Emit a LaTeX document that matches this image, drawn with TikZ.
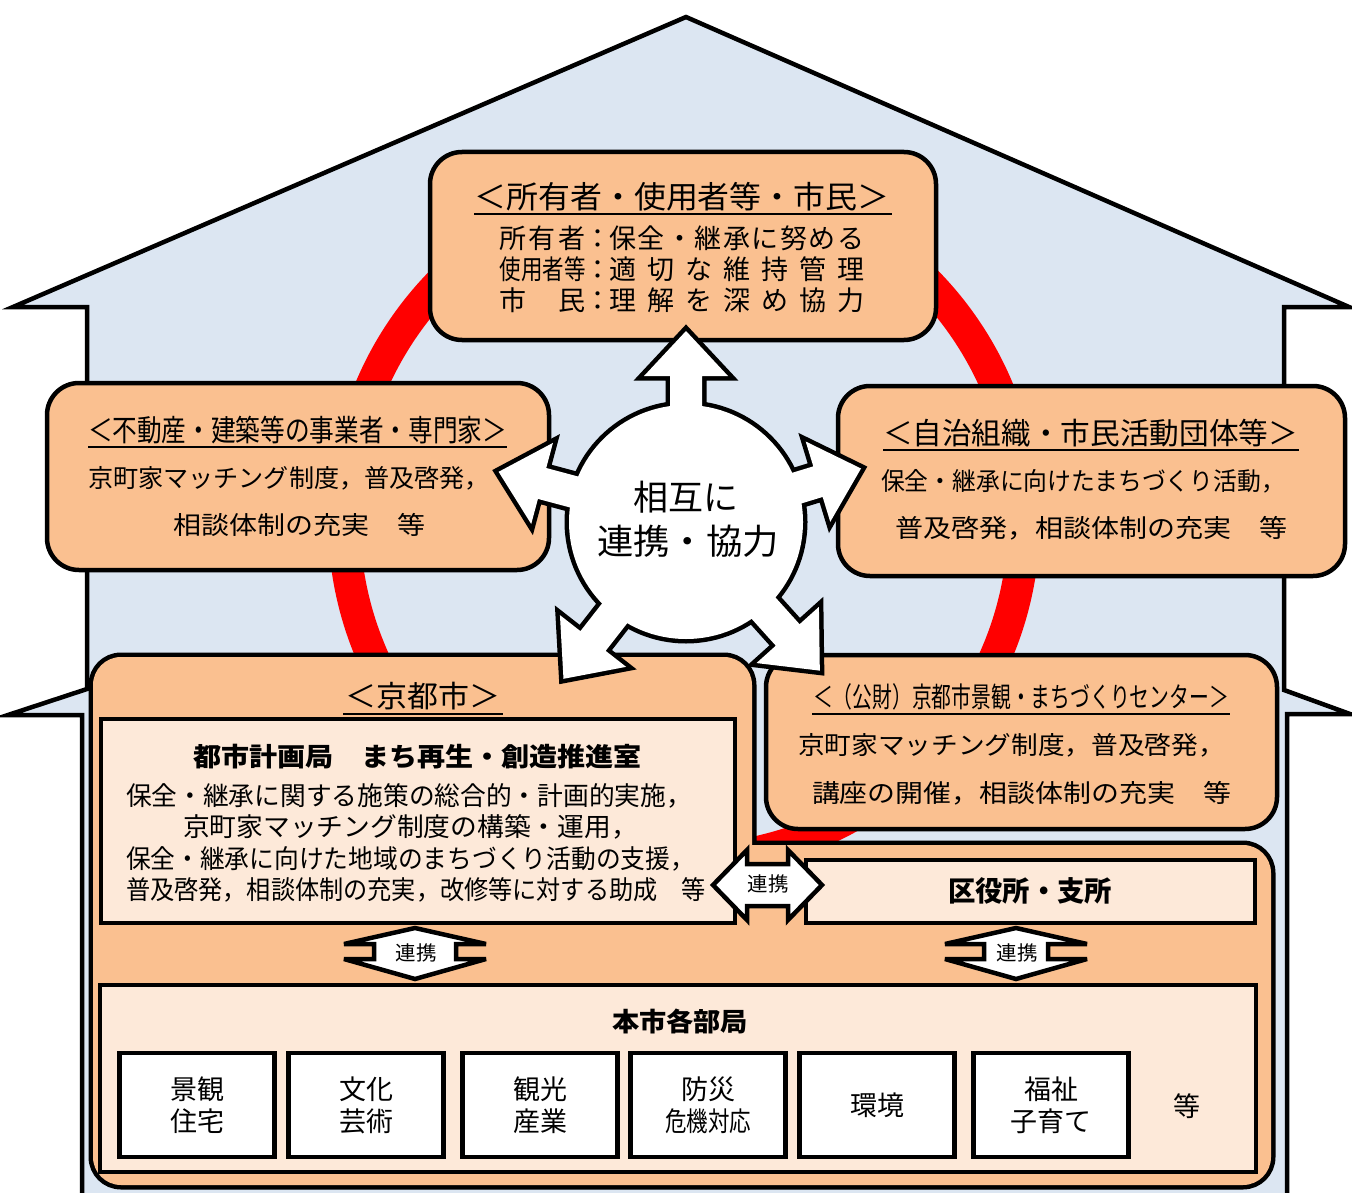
\documentclass[tikz,border=0pt]{standalone}
\usepackage{fontspec}
\setmainfont{Noto Sans CJK JP}
\usepackage{graphicx}
\definecolor{housebl}{HTML}{DCE6F2}
\definecolor{peach}{HTML}{FAC090}
\definecolor{lpeach}{HTML}{FDE9D9}
\definecolor{ringred}{HTML}{FF0000}
\newcommand\fitw[2]{\resizebox{#1pt}{\height}{#2}}
\newcommand\fsz[1]{\fontsize{#1pt}{#1pt}\selectfont}
\tikzset{
  housestyle/.style={draw=black, line width=4.5pt, fill=housebl, line join=miter, miter limit=20},
  pbox/.style={draw=black, line width=4.5pt, fill=peach, rounded corners=32pt},
  lbox/.style={draw=black, line width=4.5pt, fill=lpeach},
  wbox/.style={draw=black, line width=4.5pt, fill=white},
  txt/.style={inner sep=0pt, anchor=center},
  ul/.style={draw=black, line width=2.4pt},
  blockarrow/.style={draw=black, line width=4.5pt, fill=white, line join=miter, miter limit=5},
}
\begin{document}
\begin{tikzpicture}[x=1pt,y=-1pt]
\useasboundingbox (0,0) rectangle (1352,1193);

% house
\path[housestyle] (87,307) -- (13,307) -- (686,17) -- (1349,307) -- (1284,307) -- (1284,690)
  -- (1350,714) -- (1287,714) -- (1287,1215) -- (82,1215) -- (82,715) -- (8,715) -- (87,689) -- cycle;

% red ring
\draw[ringred, line width=32pt] (684,520) circle[radius=340pt];

% top box
\node[pbox, minimum width=506pt, minimum height=188pt] (owners) at (683,246) {};
\node[txt] (ownT) at (682,197) {\fsz{31}\fitw{415}{＜所有者・使用者等・市民＞}};
\draw[ul] (474,214) -- (892,214);
\node[txt] (own1) at (682,238) {\fsz{27}\hbox to 365pt{\hbox to 86pt{所\hfil 有\hfil 者}\makebox[24pt]{：}\hbox to 255pt{保\hfil 全\hfil ・\hfil 継\hfil 承\hfil に\hfil 努\hfil め\hfil る}}};
\node[txt] (own2) at (682,269) {\fsz{27}\hbox to 365pt{\fitw{86}{使用者等}\makebox[24pt]{：}\hbox to 255pt{適\hfil 切\hfil な\hfil 維\hfil 持\hfil 管\hfil 理}}};
\node[txt] (own3) at (682,300) {\fsz{27}\hbox to 365pt{\hbox to 86pt{市\hfil 民}\makebox[24pt]{：}\hbox to 255pt{理\hfil 解\hfil を\hfil 深\hfil め\hfil 協\hfil 力}}};

% left box
\node[pbox, minimum width=502pt, minimum height=187pt] (realestate) at (298,476.5) {};
\node[txt] (reT) at (297.5,430) {\fsz{30}\fitw{419}{＜不動産・建築等の事業者・専門家＞}};
\draw[ul] (88,447) -- (507,447);
\node[txt] (re1) at (289,478) {\fsz{25}\fitw{402}{京町家マッチング制度，普及啓発，}};
\node[txt] (re2) at (299,525) {\fsz{25}\fitw{252}{相談体制の充実　等}};

% right box
\node[pbox, minimum width=507pt, minimum height=190pt] (community) at (1091.5,481) {};
\node[txt] (coT) at (1090.5,433) {\fsz{30}\fitw{415}{＜自治組織・市民活動団体等＞}};
\draw[ul] (883,450) -- (1299,450);
\node[txt] (co1) at (1083,481) {\fsz{25}\fitw{404}{保全・継承に向けたまちづくり活動，}};
\node[txt] (co2) at (1091,528) {\fsz{25}\fitw{392}{普及啓発，相談体制の充実　等}};

% centre box
\node[pbox, minimum width=511pt, minimum height=174pt] (center) at (1021.5,742) {};
\node[txt] (ceT) at (1021,697) {\fsz{28}\fitw{416}{＜（公財）京都市景観・まちづくりセンター＞}};
\draw[ul] (812,714) -- (1230,714);
\node[txt] (ce1) at (1011.5,745) {\fsz{25}\fitw{427}{京町家マッチング制度，普及啓発，}};
\node[txt] (ce2) at (1021.5,793) {\fsz{25}\fitw{419}{講座の開催，相談体制の充実　等}};

% Kyoto city outer shape (union of two rounded rectangles)
\path[draw=black, line width=9pt, rounded corners=28pt] (93,657) rectangle (752,1185) (690,845) rectangle (1271,1185);
\path[fill=peach, rounded corners=28pt] (93,657) rectangle (752,1185) (690,845) rectangle (1271,1185);
\node[txt] (kyT) at (422.5,696) {\fsz{30}\fitw{155}{＜京都市＞}};
\draw[ul] (343,714) -- (503,714);

\node[lbox, minimum width=634pt, minimum height=204pt] (toshi) at (418,821) {};
\node[txt] (tsT) at (417.5,757) {\fsz{26}\bfseries\fitw{449}{都市計画局　まち再生・創造推進室}};
\node[txt] (ts1) at (409,796) {\fsz{26}\fitw{566}{保全・継承に関する施策の総合的・計画的実施，}};
\node[txt] (ts2) at (410.5,827) {\fsz{26}\fitw{455}{京町家マッチング制度の構築・運用，}};
\node[txt] (ts3) at (410.5,859) {\fsz{26}\fitw{569}{保全・継承に向けた地域のまちづくり活動の支援，}};
\node[txt] (ts4) at (416,890) {\fsz{26}\fitw{580}{普及啓発，相談体制の充実，改修等に対する助成　等}};

\node[lbox, minimum width=449pt, minimum height=63pt] (ward) at (1030.5,891.5) {};
\node[txt] (wdT) at (1030,891) {\fsz{28}\bfseries\fitw{164}{区役所・支所}};

\node[lbox, minimum width=1156pt, minimum height=187pt] (depts) at (678,1078.5) {};
\node[txt] (dpT) at (680,1021) {\fsz{26}\bfseries\fitw{136}{本市各部局}};

\node[wbox, minimum width=155pt, minimum height=104pt] (d1) at (197,1105) {};
\node[wbox, minimum width=155pt, minimum height=104pt] (d2) at (366,1105) {};
\node[wbox, minimum width=155pt, minimum height=104pt] (d3) at (540,1105) {};
\node[wbox, minimum width=155pt, minimum height=104pt] (d4) at (708,1105) {};
\node[wbox, minimum width=155pt, minimum height=104pt] (d5) at (877,1105) {};
\node[wbox, minimum width=155pt, minimum height=104pt] (d6) at (1051,1105) {};
\node[txt, align=center, font=\fontsize{27pt}{32pt}\selectfont] (t1) at (d1) {景観\\住宅};
\node[txt, align=center, font=\fontsize{27pt}{32pt}\selectfont] (t2) at (d2) {文化\\芸術};
\node[txt, align=center, font=\fontsize{27pt}{32pt}\selectfont] (t3) at (d3) {観光\\産業};
\node[txt, align=center, font=\fontsize{27pt}{32pt}\selectfont] (t4) at (d4) {防災\\\fitw{86}{危機対応}};
\node[txt, font=\fontsize{27pt}{32pt}\selectfont] (t5) at (d5) {環境};
\node[txt, align=center, font=\fontsize{27pt}{32pt}\selectfont] (t6) at (d6) {福祉\\子育て};
\node[txt, font=\fontsize{27pt}{32pt}\selectfont] (t7) at (1187,1106) {等};

% central star
\foreach \r/\t/\b in {90/191/146, 17/183/138, -48/200/152, -128/199/151, 165/194/149} {
  \path[draw=black, line width=9pt, line join=miter, shift={(686,522)}, rotate=\r]
    (0,-16) -- (\b,-16) -- (\b,-42) -- (\t,0) -- (\b,42) -- (\b,16) -- (0,16) -- cycle;
}
\path[draw=black, line width=9pt] (686,522) circle[radius=117pt];
\foreach \r/\t/\b in {90/191/146, 17/183/138, -48/200/152, -128/199/151, 165/194/149} {
  \path[fill=white, shift={(686,522)}, rotate=\r]
    (0,-16) -- (\b,-16) -- (\b,-42) -- (\t,0) -- (\b,42) -- (\b,16) -- (0,16) -- cycle;
}
\path[fill=white] (686,522) circle[radius=117pt];
\node[txt] (c1) at (686,497) {\fsz{35}相互に};
\node[txt] (c2) at (688,541) {\fsz{35}\fitw{182}{連携・協力}};

% renkei arrows
\path[blockarrow] (713,885) -- (747,850) -- (747,864) -- (788,864) -- (788,850) -- (822,885)
  -- (788,920) -- (788,906) -- (747,906) -- (747,920) -- cycle;
\node[txt] (r1) at (768,884) {\fsz{20}\fitw{41}{連携}};

\path[blockarrow] (415,928) -- (344,944) -- (374,944) -- (374,959) -- (344,959) -- (415,979)
  -- (486,959) -- (456,959) -- (456,944) -- (486,944) -- cycle;
\node[txt] (r2) at (416,953) {\fsz{20}\fitw{41}{連携}};

\path[blockarrow] (1016,928) -- (945,944) -- (984,944) -- (984,959) -- (945,959) -- (1016,979)
  -- (1087,959) -- (1048,959) -- (1048,944) -- (1087,944) -- cycle;
\node[txt] (r3) at (1017,953) {\fsz{20}\fitw{41}{連携}};
\end{tikzpicture}
\end{document}
